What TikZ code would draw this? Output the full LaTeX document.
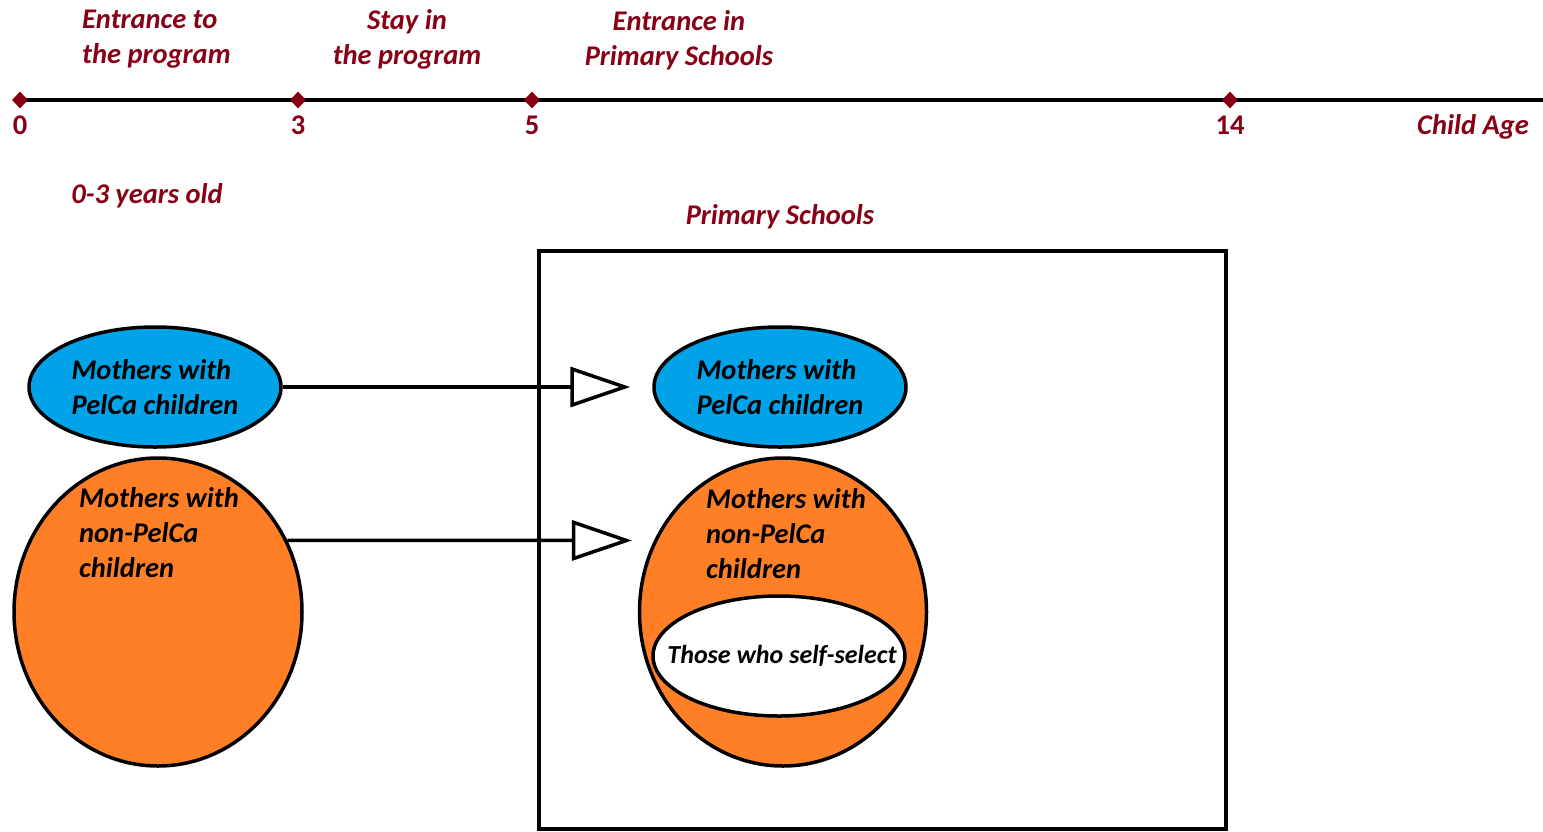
\documentclass[tikz,border=0pt]{standalone}
\usepackage{fontspec}
\setmainfont{Carlito}
\usepackage{tikz}
\usetikzlibrary{shapes.geometric, arrows.meta, positioning, calc}
\definecolor{darkred}{RGB}{136,0,21}
\definecolor{paintblue}{RGB}{0,162,232}
\definecolor{paintorange}{RGB}{255,127,39}
\tikzset{every node/.style={font=\fontsize{28.5}{35}\selectfont\bfseries\itshape}}

\begin{document}
\begin{tikzpicture}[
            x=1pt, y=-1pt,
            my tick/.style={diamond, fill=darkred, inner sep=0pt,
                minimum width=16pt, minimum height=17pt},
            my age/.style={text=darkred, inner sep=0pt,
                font=\fontsize{28.5}{35}\selectfont\bfseries},
            my label/.style={text=darkred, inner sep=0pt},
            my blob/.style={ellipse, draw=black, line width=3.5pt, inner sep=0pt},
            my arrow/.style={line width=3.5pt, shorten >=22pt,
                -{Triangle[open, length=60pt, width=40pt, line width=3.5pt]}},
        ]
        \useasboundingbox (0,0) rectangle (1543,831);
        % time axis
        \coordinate (axisstart) at (20,100);
        \coordinate (axisend) at (1545,100);
        \draw[line width=3.5pt] (axisstart) -- (axisend);
        \node[my tick] (m0) at (20,100) {};
        \node[my tick] (m3) at (298,100) {};
        \node[my tick] (m5) at (532,100) {};
        \node[my tick] (m14) at (1230,100) {};
        \node[my age, below=7pt of m0] (a0) {0};
        \node[my age, below=7pt of m3] (a3) {3};
        \node[my age, below=7pt of m5] (a5) {5};
        \node[my age, below=7pt of m14] (a14) {14};
        \node[my label] (childage) at (1473,127) {Child Age};
        \node[my label, align=left, anchor=west] (entrance) at (82,39) {Entrance to\\the program};
        \node[my label, align=center] (stay) at (407,39) {Stay in\\the program};
        \node[my label, align=center] (entrancepri) at (679,40) {Entrance in\\Primary Schools};
        \node[my label] (years) at (147,196) {0-3 years old};
        \node[my label] (schoolstitle) at (780,217) {Primary Schools};
        % primary schools box
        \draw[line width=4pt] (539,251) rectangle (1226,829);
        % groups
        \node[my blob, fill=paintblue, minimum width=252pt, minimum height=120pt, align=left]
            (pelcaL) at (155,387) {Mothers with\\PelCa children};
        \node[my blob, fill=paintblue, minimum width=252pt, minimum height=120pt, align=left]
            (pelcaR) at (780,387) {Mothers with\\PelCa children};
        \node[my blob, fill=paintorange, minimum width=288pt, minimum height=308pt]
            (nonL) at (158,612) {};
        \node[my blob, fill=paintorange, minimum width=287pt, minimum height=308pt]
            (nonR) at (783,612) {};
        \node[align=left, anchor=north west, inner sep=0pt] (nonLtext) at (79,487)
            {Mothers with\\non-PelCa\\children};
        \node[align=left, anchor=north west, inner sep=0pt] (nonRtext) at (706,488)
            {Mothers with\\non-PelCa\\children};
        \node[my blob, fill=white, minimum width=252pt, minimum height=120pt]
            (self) at (779,656) {};
        \node[inner sep=0pt, font=\fontsize{26}{32}\selectfont\bfseries\itshape]
            (selftext) at (782,656) {Those who self-select};
        % transitions
        \draw[my arrow] (pelcaL.east) -- (pelcaR.west);
        \draw[my arrow] (nonL.29) -- (nonR.151);
        \end{tikzpicture}
\end{document}
